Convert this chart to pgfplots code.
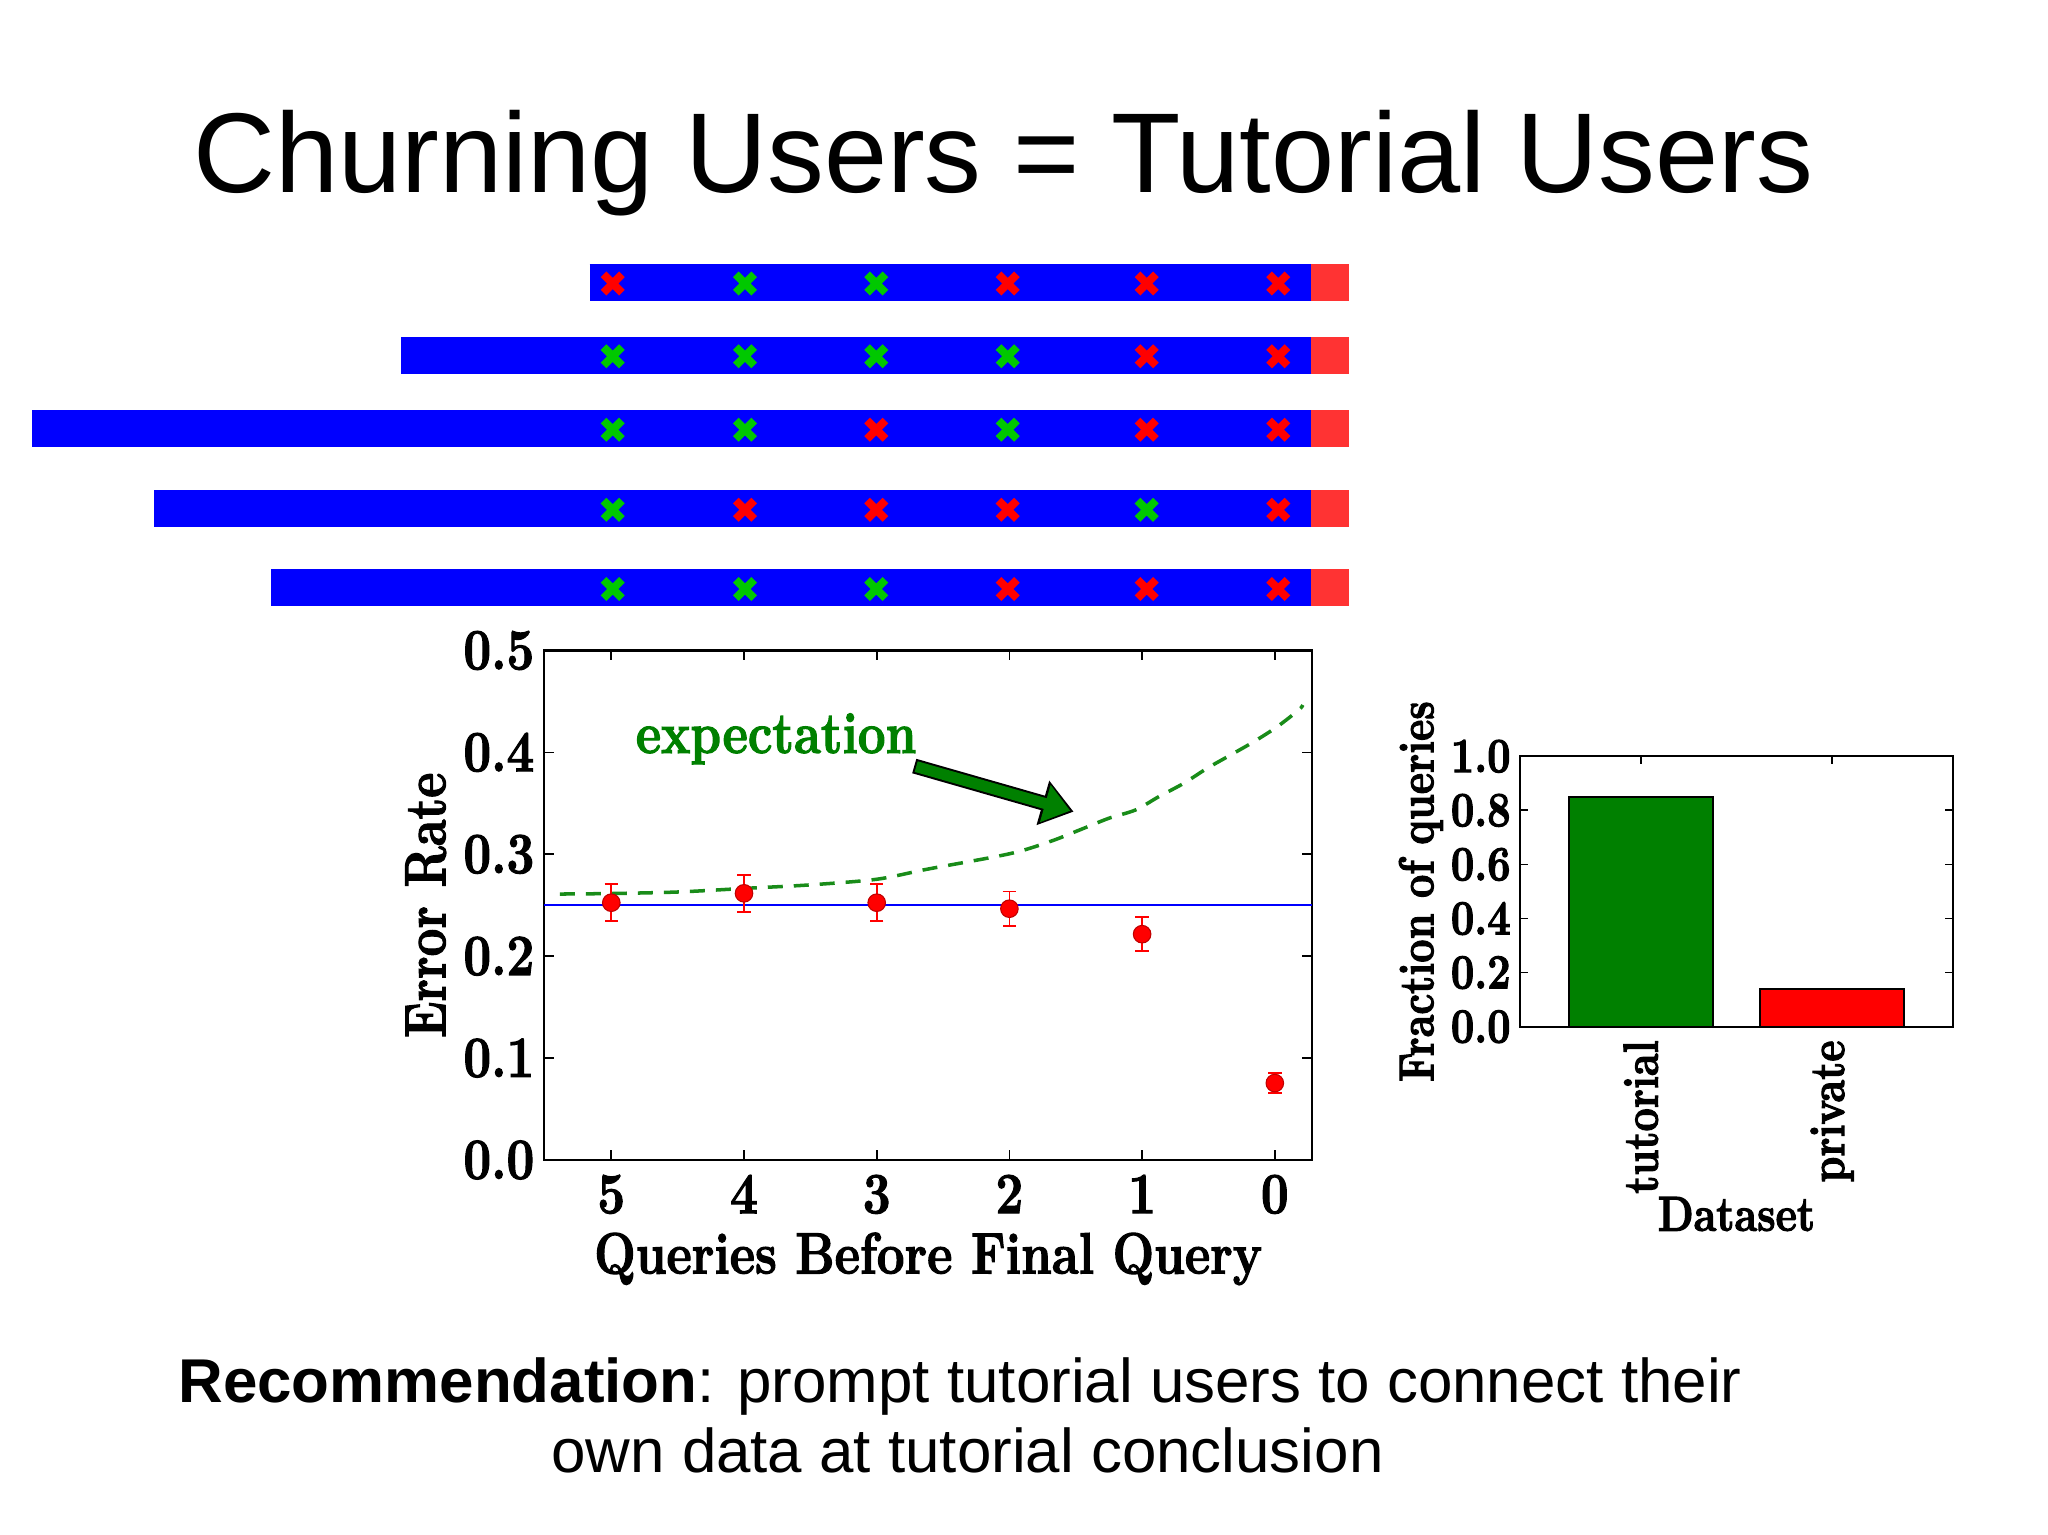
\documentclass[border=0pt]{standalone}
\usepackage{pgfplots}
\pgfplotsset{compat=1.18}
\usepackage{fontspec}
\newfontfamily\arialfont{Liberation Sans}
\usetikzlibrary{arrows.meta}
\definecolor{barblue}{RGB}{0,0,255}
\definecolor{endred}{RGB}{255,51,51}
\definecolor{xgreen}{RGB}{0,200,0}
\definecolor{xred}{RGB}{255,0,0}
\definecolor{mplgreen}{RGB}{0,128,0}
\definecolor{dashgreen}{RGB}{25,140,25}
\definecolor{mplred}{RGB}{255,0,0}
\newcommand{\heavyon}{\special{pdf:literal direct 2 Tr 0.3 w}}
\newcommand{\heavyoff}{\special{pdf:literal direct 0 Tr}}
\newcommand{\chartL}{\bfseries\fontsize{14}{16.5}\selectfont\heavyon}
\newcommand{\chartR}{\bfseries\fontsize{11.8}{14}\selectfont\heavyon}
\tikzset{every node/.append style={execute at end node={\heavyoff}}}
\begin{document}
\begin{tikzpicture}
\path[use as bounding box, fill=white] (0,0) rectangle (204.8mm,153.5mm);

% title
\node[font=\arialfont\fontsize{32.3}{38}\selectfont, anchor=base, inner sep=0pt] at (100.35mm,134.23mm) {Churning Users = Tutorial Users};

% bottom text
\node[font=\arialfont\fontsize{17.6}{20}\selectfont, anchor=base, inner sep=0pt] at (96.0mm,13.23mm) {{\bfseries Recommendation}: prompt tutorial users to connect their};
\node[font=\arialfont\fontsize{17.6}{20}\selectfont, anchor=base, inner sep=0pt] at (96.75mm,6.23mm) {own data at tutorial conclusion};

% ---------------- query sequences (pixel coordinates, y downwards)
\begin{axis}[at={(0mm,0mm)}, anchor=south west, scale only axis,
  width=204.8mm, height=153.5mm, hide axis, clip=false,
  xmin=0, xmax=2048, ymin=0, ymax=1535, y dir=reverse]
\addplot[barblue, line width=3.7mm] coordinates {(589.7,282.5) (1311,282.5)};
\addplot[barblue, line width=3.7mm] coordinates {(401,355.3) (1311,355.3)};
\addplot[barblue, line width=3.7mm] coordinates {(32.3,428.7) (1311,428.7)};
\addplot[barblue, line width=3.7mm] coordinates {(154.3,508.8) (1311,508.8)};
\addplot[barblue, line width=3.7mm] coordinates {(271,588) (1311,588)};
\addplot[endred, line width=3.7mm] coordinates {(1311,282.5) (1348.7,282.5)};
\addplot[endred, line width=3.7mm] coordinates {(1311,355.3) (1348.7,355.3)};
\addplot[endred, line width=3.7mm] coordinates {(1311,428.7) (1348.7,428.7)};
\addplot[endred, line width=3.7mm] coordinates {(1311,508.8) (1348.7,508.8)};
\addplot[endred, line width=3.7mm] coordinates {(1311,588) (1348.7,588)};
\addplot[only marks, mark=x, mark size=1.3mm, mark options={draw=xgreen, line width=0.8mm}] coordinates {
 (745,283.5) (876.3,283.5)
 (612.7,356.3) (745,356.3) (876.3,356.3) (1007.7,356.3)
 (612.7,429.7) (745,429.7) (1007.7,429.7)
 (612.7,509.8) (1146.7,509.8)
 (612.7,589) (745,589) (876.3,589)};
\addplot[only marks, mark=x, mark size=1.3mm, mark options={draw=xred, line width=0.8mm}] coordinates {
 (612.7,283.5) (1007.7,283.5) (1146.7,283.5) (1278.3,283.5)
 (1146.7,356.3) (1278.3,356.3)
 (876.3,429.7) (1146.7,429.7) (1278.3,429.7)
 (745,509.8) (876.3,509.8) (1007.7,509.8) (1278.3,509.8)
 (1007.7,589) (1146.7,589) (1278.3,589)};
\end{axis}

% ---------------- error rate chart
\begin{axis}[at={(54.43mm,37.5mm)}, anchor=south west, scale only axis,
  width=76.77mm, height=50.95mm, clip=false,
  x dir=reverse, xmin=-0.28, xmax=5.505, ymin=0, ymax=0.5,
  xtick={0,1,2,3,4,5}, xticklabels={0,1,2,3,4,5},
  ytick={0,0.1,0.2,0.3,0.4,0.5}, yticklabels={0.0,0.1,0.2,0.3,0.4,0.5},
  tick align=inside, tick pos=both, major tick length=1mm,
  axis line style={line width=0.6pt}, every tick/.style={black, line width=0.5pt},
  tick label style={font=\chartL},
  xticklabel style={inner sep=1.2mm, yscale=1.18},
  yticklabel style={inner sep=0.93mm, yscale=1.18},
  xlabel={Queries Before Final Query},
  xlabel style={font=\chartL, at={(axis description cs:0.5,-0.2226)}, anchor=base, yscale=1.18},
  ylabel={Error Rate},
  ylabel style={font=\chartL, at={(axis description cs:-0.129,0.5)}, anchor=base, yscale=1.18}]
\addplot[barblue, line width=0.6pt] coordinates {(-0.28,0.25) (5.505,0.25)};
\addplot[dashgreen, line width=1pt, dash pattern=on 1.5mm off 1.1mm, smooth] coordinates {
 (5.387,0.261) (5,0.2615) (4.5,0.263) (4,0.2665) (3.5,0.270) (3,0.2755) (2.622,0.2853)
 (2,0.3005) (1.692,0.3126) (1.44,0.3255) (1.252,0.3353) (1.05,0.3435) (0.875,0.3565)
 (0.686,0.3697) (0.51,0.3844) (0.334,0.3974) (0.158,0.4105) (-0.018,0.4252) (-0.18,0.4416) (-0.211,0.4465)};
\addplot[only marks, mark=*, mark size=2.5pt,
  mark options={fill=mplred, draw=mplred!75!black, line width=0.3pt},
  error bars/.cd, y dir=both, y explicit, error mark=-,
  error bar style={mplred, line width=0.5pt},
  error mark options={mplred, mark size=1.9pt, line width=0.5pt, rotate=90}]
  coordinates {
 (5,0.2525) +- (0,0.018)
 (4,0.2617) +- (0,0.018)
 (3,0.2525) +- (0,0.018)
 (2,0.2466) +- (0,0.017)
 (1,0.2216) +- (0,0.0165)
 (0,0.0755) +- (0,0.010)};
\node[anchor=base, text=mplgreen, font=\chartL, yscale=1.18, inner sep=0pt] at (axis cs:3.758,0.3995) {expectation};
\draw[black, line width=1.5mm, -{Triangle[length=3.2mm, width=4.4mm]}] (axis cs:2.717,0.3866) -- (axis cs:1.516,0.3418);
\draw[mplgreen, line width=1.1mm, shorten >=0.35mm, shorten <=0.2mm, -{Triangle[length=2.6mm, width=3.7mm]}] (axis cs:2.717,0.3866) -- (axis cs:1.516,0.3418);
\end{axis}

% ---------------- fraction of queries chart
\begin{axis}[at={(152.03mm,50.83mm)}, anchor=south west, scale only axis,
  width=43.24mm, height=27.04mm,
  xmin=-0.63, xmax=1.63, ymin=0, ymax=1,
  xtick={0,1}, xticklabels={tutorial,private},
  ytick={0,0.2,0.4,0.6,0.8,1.0}, yticklabels={0.0,0.2,0.4,0.6,0.8,1.0},
  tick align=inside, tick pos=both, major tick length=0.8mm,
  axis line style={line width=0.6pt}, every tick/.style={black, line width=0.5pt},
  tick label style={font=\chartR},
  xticklabel style={rotate=90, anchor=east, inner sep=1.3mm, yscale=1.18},
  yticklabel style={inner sep=0.9mm, yscale=1.18},
  xlabel={Dataset},
  xlabel style={font=\chartR, at={(axis description cs:0.5,-0.7544)}, anchor=base, yscale=1.18},
  ylabel={Fraction of queries},
  ylabel style={font=\chartR, at={(axis description cs:-0.2012,0.5)}, anchor=base, yscale=1.18}]
\addplot[ybar, bar width=0.752, bar shift=0pt, fill=mplgreen, draw=black, line width=0.5pt] coordinates {(0,0.8506)};
\addplot[ybar, bar width=0.752, bar shift=0pt, fill=mplred, draw=black, line width=0.5pt] coordinates {(1,0.1405)};
\end{axis}
\end{tikzpicture}
\end{document}
